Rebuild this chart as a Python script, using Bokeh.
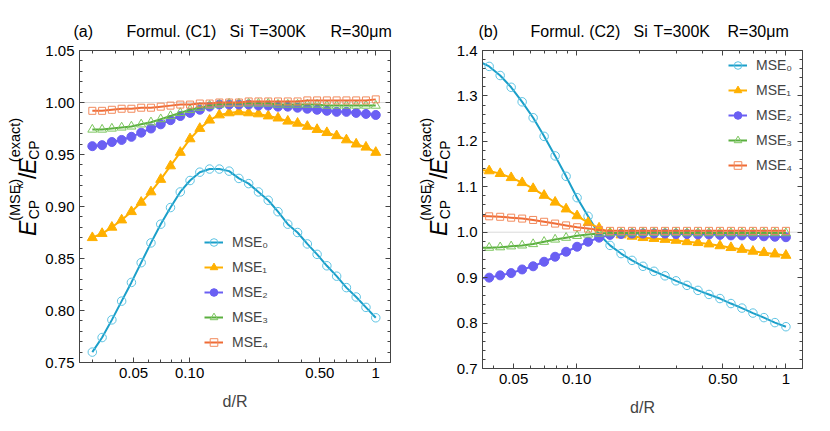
import math
import numpy as np
from bokeh.plotting import figure
from bokeh.models import (Range1d, FixedTicker, LinearAxis, LogAxis, Span,
                          Legend, LegendItem, CustomJSTickFormatter)
from bokeh.core.properties import value
from bokeh.layouts import row, column
from bokeh.embed import file_html
from bokeh.resources import INLINE

# ---------------- data ----------------
X = [0.0300, 0.03386, 0.03821, 0.04312, 0.04866, 0.05491, 0.06197, 0.06993,
     0.07892, 0.08906, 0.10050, 0.11342, 0.12800, 0.14444, 0.16301, 0.18396,
     0.20760, 0.23428, 0.26439, 0.29837, 0.33671, 0.37999, 0.42882, 0.48393,
     0.54613, 0.61631, 0.69552, 0.78490, 0.88576, 1.0]

# panel (a): Formul. (C1)
A_MSE0 = [0.760, 0.774, 0.791, 0.809, 0.827, 0.846, 0.865, 0.883, 0.899, 0.914,
          0.925, 0.933, 0.936, 0.936, 0.934, 0.927, 0.922, 0.914, 0.906, 0.895,
          0.883, 0.875, 0.864, 0.854, 0.843, 0.833, 0.822, 0.813, 0.803, 0.793]
A_MSE1 = [0.870, 0.874, 0.880, 0.887, 0.895, 0.904, 0.914, 0.926, 0.939, 0.952,
          0.965, 0.975, 0.983, 0.988, 0.990, 0.991, 0.990, 0.989, 0.987, 0.985,
          0.982, 0.980, 0.977, 0.974, 0.971, 0.968, 0.964, 0.960, 0.957, 0.952]
A_MSE2 = [0.958, 0.959, 0.962, 0.964, 0.967, 0.971, 0.975, 0.979, 0.983, 0.987,
          0.990, 0.993, 0.996, 0.998, 0.998, 0.998, 0.998, 0.997, 0.997, 0.996,
          0.996, 0.995, 0.994, 0.993, 0.992, 0.991, 0.991, 0.990, 0.989, 0.988]
A_MSE3 = [0.974, 0.974, 0.975, 0.976, 0.977, 0.979, 0.981, 0.984, 0.987, 0.990,
          0.993, 0.995, 0.997, 0.998, 0.999, 0.999, 0.999, 0.999, 0.999, 0.998,
          0.998, 0.998, 0.998, 0.998, 0.997, 0.997, 0.997, 0.997, 0.997, 0.997]
A_MSE4 = [0.992, 0.992, 0.993, 0.994, 0.994, 0.995, 0.995, 0.996, 0.997, 0.998,
          0.998, 0.999, 0.999, 1.000, 1.000, 1.000, 1.001, 1.001, 1.001, 1.001,
          1.001, 1.001, 1.002, 1.002, 1.002, 1.002, 1.002, 1.002, 1.002, 1.003]

# panel (b): Formul. (C2)  (starts at X[1])
B_X = X[1:]
B_MSE0 = [1.377, 1.365, 1.345, 1.319, 1.287, 1.252, 1.211, 1.168, 1.123, 1.076,
          1.035, 0.995, 0.971, 0.953, 0.938, 0.925, 0.914, 0.904, 0.893, 0.883,
          0.872, 0.863, 0.854, 0.843, 0.833, 0.822, 0.812, 0.801, 0.792]
B_MSE1 = [1.138, 1.135, 1.129, 1.120, 1.109, 1.096, 1.081, 1.066, 1.051, 1.036,
          1.021, 1.009, 0.998, 0.994, 0.991, 0.988, 0.986, 0.984, 0.982, 0.979,
          0.977, 0.974, 0.970, 0.966, 0.962, 0.958, 0.955, 0.952, 0.949]
B_MSE2 = [0.898, 0.900, 0.905, 0.910, 0.918, 0.925, 0.935, 0.946, 0.957, 0.968,
          0.979, 0.988, 0.994, 0.996, 0.997, 0.997, 0.997, 0.997, 0.996, 0.996,
          0.995, 0.995, 0.994, 0.993, 0.993, 0.992, 0.991, 0.990, 0.989]
B_MSE3 = [0.966, 0.966, 0.967, 0.969, 0.971, 0.974, 0.979, 0.984, 0.988, 0.992,
          0.995, 0.997, 0.998, 0.998, 0.998, 0.999, 0.999, 0.999, 0.999, 0.998,
          0.998, 0.998, 0.998, 0.998, 0.998, 0.998, 0.998, 0.998, 0.998]
B_MSE4 = [1.036, 1.035, 1.034, 1.032, 1.030, 1.027, 1.023, 1.019, 1.015, 1.011,
          1.008, 1.005, 1.003, 1.003, 1.003, 1.003, 1.003, 1.003, 1.003, 1.003,
          1.003, 1.003, 1.003, 1.003, 1.003, 1.003, 1.003, 1.003, 1.003]

SERIES = ["MSE\u2080", "MSE\u2081", "MSE\u2082", "MSE\u2083", "MSE\u2084"]
REF_LEVEL = 1.0

X_TICKS = [0.05, 0.1, 0.5, 1.0]
X_TICK_LABELS = ["0.05", "0.10", "0.50", "1"]
X_MINOR = [0.02, 0.03, 0.04, 0.06, 0.07, 0.08, 0.09, 0.2, 0.3, 0.4, 0.6, 0.7, 0.8, 0.9]
A_Y_TICKS = [0.75, 0.80, 0.85, 0.90, 0.95, 1.00, 1.05]
A_Y_LABELS = ["0.75", "0.80", "0.85", "0.90", "0.95", "1.00", "1.05"]
B_Y_TICKS = [0.7, 0.8, 0.9, 1.0, 1.1, 1.2, 1.3, 1.4]
B_Y_LABELS = ["0.7", "0.8", "0.9", "1.0", "1.1", "1.2", "1.3", "1.4"]

TITLE_A = ["(a)", "Formul. (C1)", "Si", "T=300K", "R=30\u03bcm"]
TITLE_B = ["(b)", "Formul. (C2)", "Si", "T=300K", "R=30\u03bcm"]

FONT = "Liberation Sans"
FRAME_COL = "#444444"
MID = 0.3465   # (ascent - descent) / 2 for Liberation Sans, in em
EM_W = {"E": 0.667, "CP": 1.389, "(MSE": 2.5, "k": 0.5, ")": 0.333, "/": 0.278,
        "(exact)": 3.056}
LABEL_DY = 9   # small downward correction of the rotated label pieces

STYLES = [
    dict(marker="circle", fill=None, mcol="#5ec4e4", lcol="#1b9fc9", size=8.5),
    dict(marker="triangle", fill="#ffb000", mcol="#ffb000", lcol="#ffb000", size=10),
    dict(marker="circle", fill="#6a5ff3", mcol="#6a5ff3", lcol="#6a5ff3", size=9),
    dict(marker="triangle", fill=None, mcol="#7cc65e", lcol="#5aaf3f", size=9),
    dict(marker="square", fill=None, mcol="#f28a5c", lcol="#ef6b35", size=7),
]

FMT_CODE = """
const i = vals.findIndex(t => Math.abs(t - tick) < 1e-9);
return i >= 0 ? labs[i] : "";
"""

ROW_TOP = 42      # page y where the row of panels begins
PAGE_BOTTOM = 425 # page y of the bottom of the panels row
ROW_H = PAGE_BOTTOM - ROW_TOP


def fmt(vals, labs):
    return CustomJSTickFormatter(args=dict(vals=vals, labs=labs), code=FMT_CODE)


def empty_fmt():
    return CustomJSTickFormatter(code="return '';")


def style_axis(ax, labels=True):
    ax.axis_line_color = FRAME_COL
    ax.major_tick_line_color = FRAME_COL
    ax.minor_tick_line_color = FRAME_COL
    ax.major_tick_in = 5
    ax.major_tick_out = 0
    ax.minor_tick_in = 3
    ax.minor_tick_out = 0
    ax.major_label_text_font = FONT
    ax.major_label_text_font_size = "15px"
    ax.major_label_text_color = "black" if labels else None
    ax.major_label_standoff = 5 if labels else 0


def text_fig(width, height):
    f = figure(width=width, height=height, x_range=Range1d(0, width), y_range=Range1d(0, height),
               min_border=0, x_axis_location=None, y_axis_location=None,
               output_backend="svg", toolbar_location=None)
    f.grid.visible = False
    f.outline_line_color = None
    f.border_fill_color = None
    f.background_fill_color = None
    return f


def add_htext(f, fig_top, bx, by, txt, fs):
    """Horizontal text whose baseline starts at page point (bx, by)."""
    h = f.height
    f.text(x=[bx], y=[h - (by - MID * fs - fig_top)], text=[txt],
           text_font=value(FONT), text_font_size=value(f"{fs}px"),
           text_align="left", text_baseline="middle", text_color="black")


def add_vtext(f, fig_top, page_left, base_x, start_y, txt, fs, style):
    """Text rotated 90deg (reads upward); baseline at page x base_x, text starts at page y start_y."""
    h = f.height
    w = EM_W[txt] * fs
    cx = base_x - MID * fs - page_left
    cy = start_y + LABEL_DY - w / 2.0
    f.text(x=[cx], y=[h - (cy - fig_top)], text=[txt], angle=math.pi / 2,
           text_font=value(FONT), text_font_size=value(f"{fs}px"),
           text_font_style=value(style), text_align="center", text_baseline="middle",
           text_color="black")


def ylabel_fig(width, page_left, m):
    """Composite y label  E_CP^(MSE_k) / E_CP^(exact); m = page x of the main baseline."""
    f = text_fig(width, ROW_H)
    parts = [
        ("E", m, 259, 23, "italic"),
        ("CP", m + 3, 238, 14, "normal"),
        ("(MSE", m - 16, 238, 14.5, "normal"),
        ("k", m - 13, 201.5, 10.5, "italic"),
        (")", m - 16, 196, 14.5, "normal"),
        ("/", m, 190, 23, "normal"),
        ("E", m, 183, 23, "italic"),
        ("CP", m + 3, 165, 14, "normal"),
        ("(exact)", m - 16, 165, 14.5, "normal"),
    ]
    for txt, bx, sy, fs, st in parts:
        add_vtext(f, ROW_TOP, page_left, bx, sy, txt, fs, st)
    return f


def make_panel(xs, ys_list, x_start, y_lo, y_hi, y_ticks, y_labels, frame, legend_loc):
    fl, ft, fw, fh, bl, bt, br, bb = frame
    p = figure(x_axis_type="log", x_range=Range1d(x_start, 1.2), y_range=Range1d(y_lo, y_hi),
               frame_width=fw, frame_height=fh, min_border_left=bl, min_border_top=bt,
               min_border_right=br, min_border_bottom=bb,
               output_backend="svg", toolbar_location=None)
    p.grid.visible = False
    p.outline_line_color = FRAME_COL
    p.background_fill_color = "white"

    step = (y_ticks[1] - y_ticks[0]) / 5
    y_minor = [round(v, 2) for v in np.arange(y_lo, y_hi + 1e-9, step)
               if min(abs(v - t) for t in y_ticks) > 1e-6]

    xa = p.xaxis[0]
    xa.ticker = FixedTicker(ticks=X_TICKS, minor_ticks=X_MINOR)
    xa.formatter = fmt(X_TICKS, X_TICK_LABELS)
    style_axis(xa)
    xa.axis_label = "d/R"
    xa.axis_label_text_font = FONT
    xa.axis_label_text_font_size = "16px"
    xa.axis_label_text_font_style = "normal"
    xa.axis_label_standoff = 12

    ya = p.yaxis[0]
    ya.ticker = FixedTicker(ticks=y_ticks, minor_ticks=y_minor)
    ya.formatter = fmt(y_ticks, y_labels)
    style_axis(ya)

    top = LogAxis(ticker=FixedTicker(ticks=X_TICKS, minor_ticks=X_MINOR), formatter=empty_fmt())
    style_axis(top, labels=False)
    p.add_layout(top, "above")
    right = LinearAxis(ticker=FixedTicker(ticks=y_ticks, minor_ticks=y_minor), formatter=empty_fmt())
    style_axis(right, labels=False)
    p.add_layout(right, "right")

    p.add_layout(Span(location=REF_LEVEL, dimension="width", line_color="#dadada",
                      line_width=1, level="underlay"))

    items = []
    for name, ys, st in zip(SERIES, ys_list, STYLES):
        lr = p.line(xs, ys, line_color=st["lcol"], line_width=2)
        sr = p.scatter(xs, ys, marker=st["marker"], size=st["size"],
                       fill_color=st["fill"], line_color=st["mcol"], line_width=1)
        items.append(LegendItem(label=name, renderers=[lr, sr]))

    fb = ft + fh
    leg = Legend(items=items, location=(legend_loc[0] - fl, fb - legend_loc[1]),
                 padding=0, margin=0, spacing=5, glyph_width=19, glyph_height=20,
                 label_standoff=9, label_text_font=FONT, label_text_font_size="14px",
                 border_line_color=None, background_fill_alpha=0)
    p.add_layout(leg)
    return p


# frame spec: (frame_left_page, frame_top_page, frame_w, frame_h, border_l, border_t, border_r, border_b)
pa = make_panel(X, [A_MSE0, A_MSE1, A_MSE2, A_MSE3, A_MSE4], 0.0256, 0.75, 1.05,
                A_Y_TICKS, A_Y_LABELS, (77, 50, 311, 312, 35, 8, 27, PAGE_BOTTOM - 362), (202, 352))
pb = make_panel(B_X, [B_MSE0, B_MSE1, B_MSE2, B_MSE3, B_MSE4], 0.0355, 0.7, 1.4,
                B_Y_TICKS, B_Y_LABELS, (477, 47, 320, 318, 26, 5, 10, PAGE_BOTTOM - 365), (723, 172))

la = ylabel_fig(42, 0, 35.5)
lb = ylabel_fig(36, 415, 415 + 29.5)

# title strip across the top
TOTAL_W = 42 + 373 + 36 + 356
ts = text_fig(TOTAL_W, ROW_TOP)
for txt, px in zip(TITLE_A, [73, 126, 229, 249, 330]):
    add_htext(ts, 0, px, 37, txt, 16)
for txt, px in zip(TITLE_B, [478, 530, 633, 653, 727]):
    add_htext(ts, 0, px, 37, txt, 16)

layout = column(ts, row(la, pa, lb, pb))
open("out.html", "w").write(file_html(layout, INLINE))
